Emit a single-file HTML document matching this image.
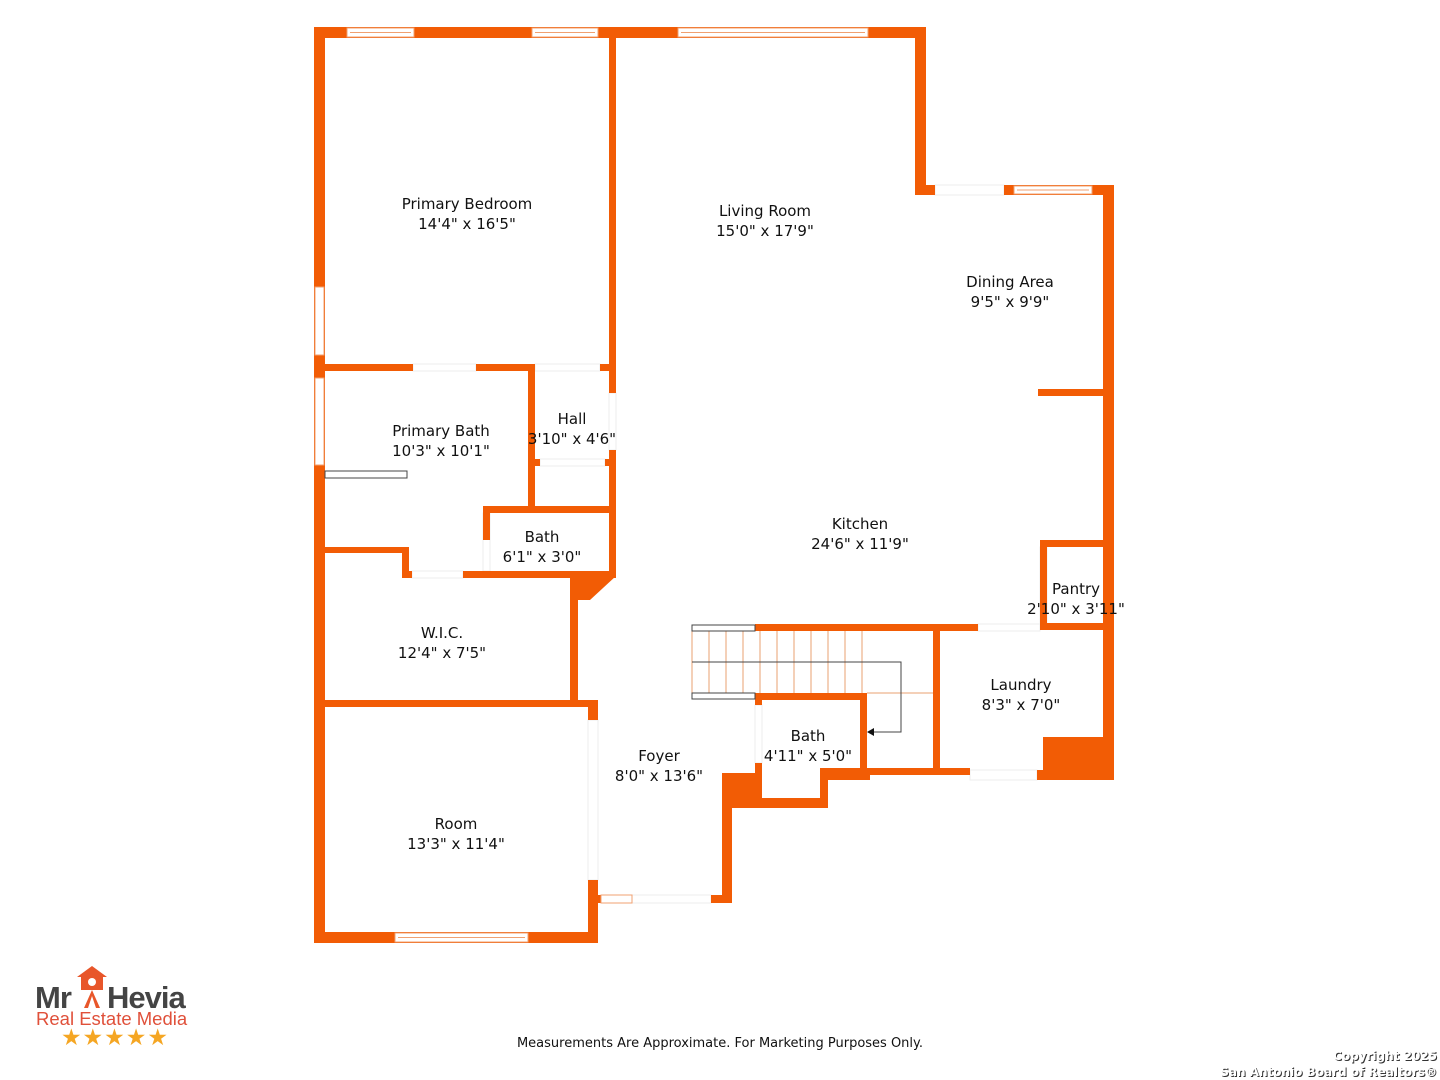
<!DOCTYPE html>
<html><head><meta charset="utf-8"><style>
html,body{margin:0;padding:0;background:#fff;width:1440px;height:1080px;overflow:hidden}
svg{display:block}
.w{fill:#f25c05}
.win{fill:#fff;stroke:#f0a070;stroke-width:1}
.t{font-family:"DejaVu Sans","Liberation Sans",sans-serif;font-size:15px;fill:#111;text-anchor:middle}
.th{fill:none;stroke:#eee;stroke-width:1}
</style></head><body>
<svg width="1440" height="1080" viewBox="0 0 1440 1080" xmlns="http://www.w3.org/2000/svg">
<!-- door thresholds -->
<g class="th">
<rect x="413" y="364" width="63" height="7"/>
<rect x="540" y="459" width="65" height="7"/>
<rect x="535" y="364" width="65" height="7"/>
<rect x="609" y="393" width="7" height="57"/>
<rect x="412" y="571" width="51" height="7"/>
<rect x="483" y="513" width="7" height="58"/>
<rect x="935" y="185" width="69" height="10"/>
<rect x="970" y="770" width="67" height="10"/>
<rect x="978" y="624" width="62" height="7"/>
<rect x="1040" y="547" width="7" height="76"/>
<rect x="588" y="720" width="10" height="160"/>
<rect x="632" y="895" width="79" height="8"/>
<rect x="755" y="705" width="7" height="58"/>
</g>
<g class="w">
<rect x="314" y="27" width="612" height="11"/>
<rect x="314" y="27" width="11" height="916"/>
<rect x="609" y="38" width="7" height="355"/>
<rect x="609" y="450" width="7" height="128"/>
<rect x="915" y="27" width="11" height="168"/>
<rect x="915" y="185" width="20" height="10"/>
<rect x="1004" y="185" width="110" height="10"/>
<rect x="1103" y="185" width="11" height="595"/>
<rect x="1038" y="389" width="65" height="7"/>
<rect x="1040" y="540" width="7" height="90"/>
<rect x="1040" y="540" width="63" height="7"/>
<rect x="1040" y="623" width="63" height="7"/>
<rect x="755" y="624" width="223" height="7"/>
<rect x="933" y="631" width="7" height="144"/>
<rect x="1037" y="770" width="77" height="10"/>
<rect x="1043" y="737" width="60" height="40"/>
<rect x="865" y="768" width="105" height="7"/>
<rect x="755" y="693" width="112" height="7"/>
<rect x="860" y="693" width="7" height="82"/>
<rect x="820" y="768" width="50" height="12"/>
<rect x="820" y="770" width="8" height="38"/>
<rect x="722" y="798" width="106" height="10"/>
<rect x="755" y="693" width="7" height="12"/>
<rect x="722" y="773" width="40" height="35"/>
<rect x="755" y="763" width="7" height="40"/>
<rect x="722" y="773" width="10" height="130"/>
<rect x="711" y="895" width="21" height="8"/>
<rect x="314" y="932" width="284" height="11"/>
<rect x="588" y="700" width="10" height="20"/>
<rect x="588" y="880" width="10" height="62"/>
<rect x="598" y="895" width="4" height="8"/>
<rect x="325" y="700" width="273" height="7"/>
<rect x="570" y="575" width="8" height="125"/>
<rect x="578" y="575" width="12" height="25"/>
<polygon points="590,571 616,571 616,576 590,600"/>
<rect x="325" y="547" width="83" height="6"/>
<rect x="402" y="547" width="7" height="31"/>
<rect x="402" y="571" width="10" height="7"/>
<rect x="463" y="571" width="153" height="7"/>
<rect x="483" y="506" width="133" height="7"/>
<rect x="483" y="506" width="7" height="34"/>
<rect x="528" y="364" width="7" height="149"/>
<rect x="325" y="364" width="88" height="7"/>
<rect x="476" y="364" width="59" height="7"/>
<rect x="600" y="364" width="16" height="7"/>
<rect x="528" y="459" width="12" height="7"/>
<rect x="605" y="459" width="11" height="7"/>
</g>
<g class="win">
<rect x="347" y="28" width="67" height="9"/><line x1="350" y1="32.5" x2="411" y2="32.5"/>
<rect x="532" y="28" width="66" height="9"/><line x1="535" y1="32.5" x2="595" y2="32.5"/>
<rect x="678" y="28" width="190" height="9"/><line x1="681" y1="32.5" x2="865" y2="32.5"/>
<rect x="1014" y="186" width="78" height="8"/><line x1="1017" y1="190" x2="1089" y2="190"/>
<rect x="315" y="287" width="9" height="68"/>
<rect x="315" y="378" width="9" height="87"/>
<rect x="395" y="933" width="133" height="9"/><line x1="398" y1="937.5" x2="525" y2="937.5"/>
<rect x="601" y="895" width="31" height="8"/>
</g>
<rect x="325" y="471" width="82" height="7" fill="#fff" stroke="#444"/>
<g stroke="#e8a070" stroke-width="1">
<line x1="692" y1="631" x2="692" y2="693"/><line x1="709" y1="631" x2="709" y2="693"/><line x1="726" y1="631" x2="726" y2="693"/><line x1="743" y1="631" x2="743" y2="693"/><line x1="760" y1="631" x2="760" y2="693"/><line x1="777" y1="631" x2="777" y2="693"/><line x1="794" y1="631" x2="794" y2="693"/><line x1="811" y1="631" x2="811" y2="693"/><line x1="828" y1="631" x2="828" y2="693"/><line x1="845" y1="631" x2="845" y2="693"/><line x1="862" y1="631" x2="862" y2="693"/>
<line x1="867" y1="693" x2="933" y2="693"/>
</g>
<g fill="none" stroke="#444" stroke-width="1">
<rect x="692" y="625" width="63" height="6"/><rect x="692" y="693" width="63" height="6"/>
<polyline points="692,662 901,662 901,732 872,732"/>
</g>
<polygon points="867,732 874,728 874,736" fill="#111"/>
<text class="t" x="467" y="209">Primary Bedroom</text><text class="t" x="467" y="229">14'4" x 16'5"</text>
<text class="t" x="765" y="216">Living Room</text><text class="t" x="765" y="236">15'0" x 17'9"</text>
<text class="t" x="1010" y="287">Dining Area</text><text class="t" x="1010" y="307">9'5" x 9'9"</text>
<text class="t" x="441" y="436">Primary Bath</text><text class="t" x="441" y="456">10'3" x 10'1"</text>
<text class="t" x="572" y="424">Hall</text><text class="t" x="572" y="444">3'10" x 4'6"</text>
<text class="t" x="542" y="542">Bath</text><text class="t" x="542" y="562">6'1" x 3'0"</text>
<text class="t" x="860" y="529">Kitchen</text><text class="t" x="860" y="549">24'6" x 11'9"</text>
<text class="t" x="1076" y="594">Pantry</text><text class="t" x="1076" y="614">2'10" x 3'11"</text>
<text class="t" x="442" y="638">W.I.C.</text><text class="t" x="442" y="658">12'4" x 7'5"</text>
<text class="t" x="1021" y="690">Laundry</text><text class="t" x="1021" y="710">8'3" x 7'0"</text>
<text class="t" x="808" y="741">Bath</text><text class="t" x="808" y="761">4'11" x 5'0"</text>
<text class="t" x="659" y="761">Foyer</text><text class="t" x="659" y="781">8'0" x 13'6"</text>
<text class="t" x="456" y="829">Room</text><text class="t" x="456" y="849">13'3" x 11'4"</text>
<text class="t" x="720" y="1047" style="font-size:13px">Measurements Are Approximate. For Marketing Purposes Only.</text>
<text x="1438" y="1061" text-anchor="end" style="font-family:'DejaVu Sans',sans-serif;font-weight:bold;font-size:12px;fill:#333">Copyright 2025</text>
<text x="1437" y="1060" text-anchor="end" style="font-family:'DejaVu Sans',sans-serif;font-weight:bold;font-size:12px;fill:#fff">Copyright 2025</text>
<text x="1438" y="1077" text-anchor="end" style="font-family:'DejaVu Sans',sans-serif;font-weight:bold;font-size:12px;fill:#333">San Antonio Board of Realtors®</text>
<text x="1437" y="1076" text-anchor="end" style="font-family:'DejaVu Sans',sans-serif;font-weight:bold;font-size:12px;fill:#fff">San Antonio Board of Realtors®</text>
<polygon points="77,977 92,966 107,977 103,977 103,990 81,990 81,977" fill="#e8562a"/>
<circle cx="92" cy="982" r="4" fill="#fff"/>
<polygon points="92,990 84,1008 88,1008 92,996 96,1008 100,1008" fill="#e8562a"/>
<text x="35" y="1008" style="font-family:'Liberation Sans',sans-serif;font-weight:bold;font-size:31px;fill:#444;letter-spacing:-1px">Mr</text>
<text x="107" y="1008" style="font-family:'Liberation Sans',sans-serif;font-weight:bold;font-size:31px;fill:#444;letter-spacing:-1px">Hevia</text>
<text x="36" y="1025" style="font-family:'Liberation Sans',sans-serif;font-size:18.5px;fill:#e0503a">Real Estate Media</text>
<text x="115" y="1045" text-anchor="middle" style="font-family:'DejaVu Sans',sans-serif;font-size:23px;fill:#f5a623;letter-spacing:1px">★★★★★</text>
</svg>
</body></html>
